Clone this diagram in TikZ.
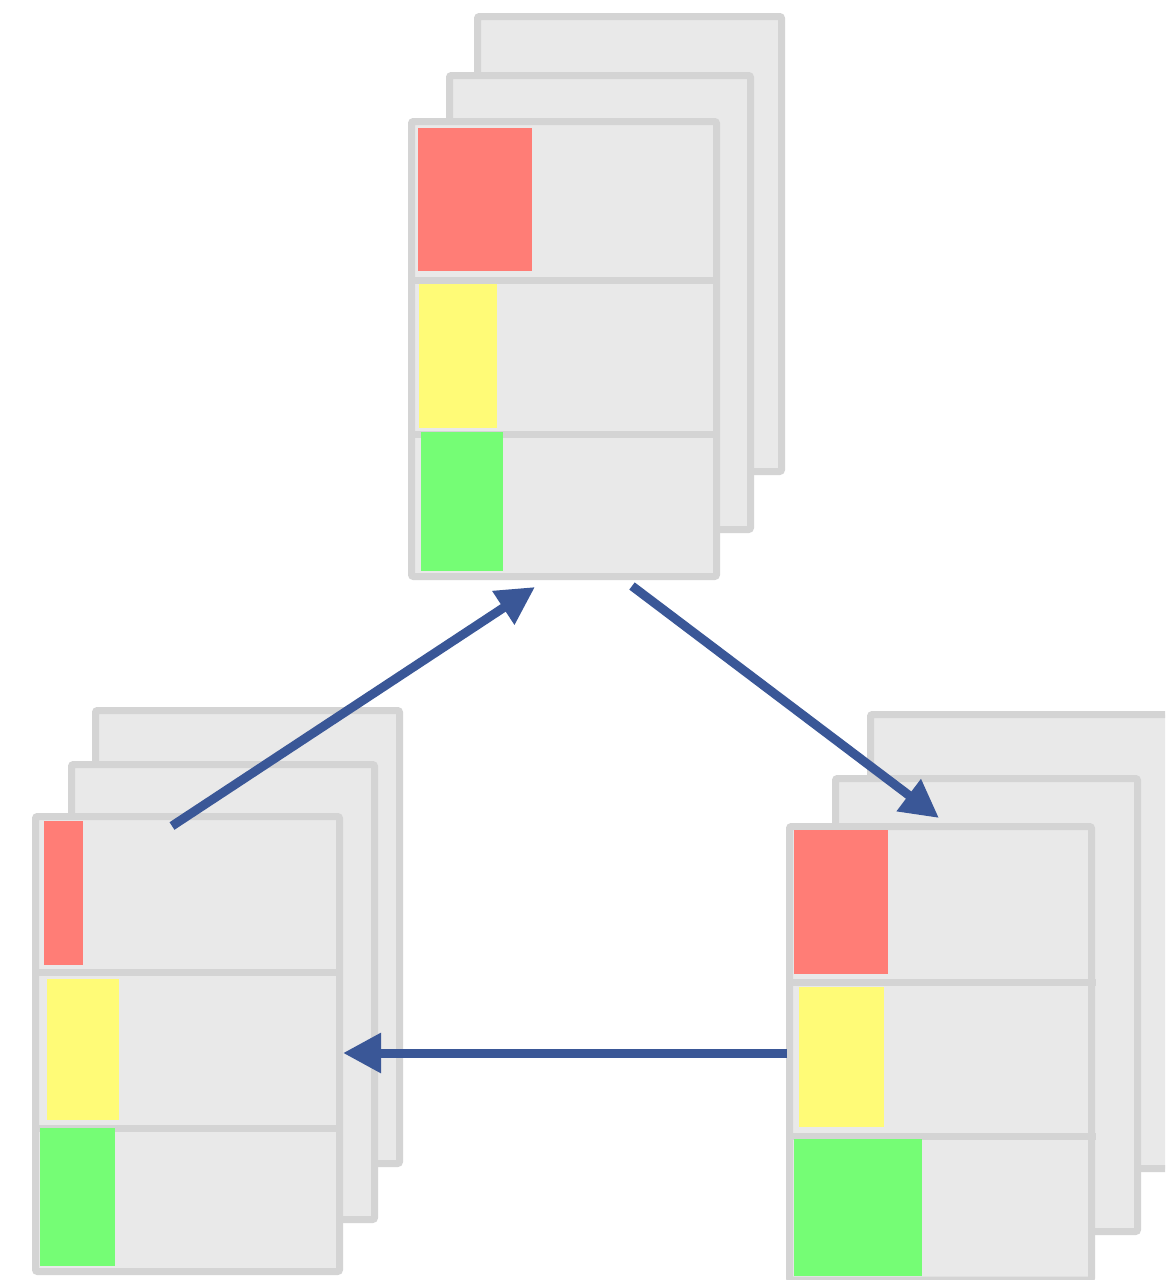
\documentclass[tikz,border=0pt]{standalone}
\usetikzlibrary{arrows.meta}
\definecolor{sheetfill}{HTML}{E9E9E9}
\definecolor{sheetline}{HTML}{D4D4D4}
\definecolor{cred}{HTML}{FF7D76}
\definecolor{cyellow}{HTML}{FFFB77}
\definecolor{cgreen}{HTML}{75FD75}
\definecolor{arrowblue}{HTML}{3A5797}
\tikzset{
  sheet/.style={fill=sheetfill, draw=sheetline, line width=7pt, rounded corners=2pt},
  divider/.style={draw=sheetline, line width=7pt},
  redblock/.style={fill=cred},
  yellowblock/.style={fill=cyellow},
  greenblock/.style={fill=cgreen},
  flow/.style={draw=arrowblue, line width=9pt, -{Triangle[length=38pt,width=38pt]}}
}
\begin{document}
\begin{tikzpicture}[x=1pt,y=-1pt]
\clip (0,0) rectangle (1165,1280);
\fill[white] (0,0) rectangle (1165,1280);

% ---------- top stack ----------
\draw[sheet] (477.5,16.5) rectangle (781.5,471.5);
\draw[sheet] (449.5,75.5) rectangle (750.5,529.5);
\draw[sheet] (411.5,121.5) rectangle (716.5,576.5);
\draw[divider] (411.5,280) -- (716.5,280);
\draw[divider] (411.5,434.5) -- (716.5,434.5);
\fill[redblock] (418,128) rectangle (532,271);
\fill[yellowblock] (419,284) rectangle (497,428);
\fill[greenblock] (421,432) rectangle (503,571);
\coordinate (topin) at (535,587);
\coordinate (topout) at (632,586);

% ---------- left stack ----------
\draw[sheet] (95.5,710.5) rectangle (399.5,1163.5);
\draw[sheet] (71.5,764.5) rectangle (374.5,1219.5);
\draw[sheet] (35.5,816.5) rectangle (339.5,1271.5);
\draw[divider] (35.5,972.5) -- (339.5,972.5);
\draw[divider] (35.5,1128) -- (339.5,1128);
\fill[redblock] (44,821) rectangle (83,965);
\fill[yellowblock] (47,979) rectangle (119,1120);
\fill[greenblock] (40,1128) rectangle (115,1266);
\coordinate (leftout) at (172,826);
\coordinate (leftin) at (343,1053);

% ---------- right stack ----------
\draw[sheet] (870.5,714.5) rectangle (1180,1168.5);
\draw[sheet] (835.5,778.5) rectangle (1137.5,1231.5);
\draw[sheet] (789.5,826.5) rectangle (1091.5,1280);
\draw[divider] (789.5,982) -- (1096,982);
\draw[divider] (789.5,1136.5) -- (1096,1136.5);
\fill[redblock] (794,830) rectangle (888,974);
\fill[yellowblock] (799,987) rectangle (884,1127);
\fill[greenblock] (794,1139) rectangle (922,1276);
\coordinate (rightin) at (939,818);
\coordinate (rightout) at (787,1053);

% ---------- arrows ----------
\draw[flow] (leftout) -- (topin);
\draw[flow] (topout) -- (rightin);
\draw[flow] (rightout) -- (leftin);
\end{tikzpicture}
\end{document}
